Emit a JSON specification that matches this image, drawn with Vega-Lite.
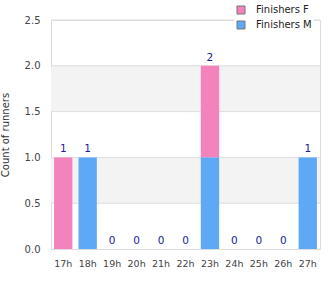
{
  "$schema": "https://vega.github.io/schema/vega-lite/v6.json",
  "width": 269,
  "height": 229,
  "autosize": {"type": "none"},
  "padding": {"left": 51, "top": 20, "right": 10, "bottom": 51},
  "config": {
    "font": "DejaVu Sans",
    "view": {"stroke": "#dddddd"},
    "axis": {"labelFont": "DejaVu Sans", "titleFont": "DejaVu Sans"}
  },
  "datasets": {
    "runners": [
      {"hour": "17h", "series": "Finishers F", "count": 1},
      {"hour": "17h", "series": "Finishers M", "count": 0},
      {"hour": "18h", "series": "Finishers F", "count": 0},
      {"hour": "18h", "series": "Finishers M", "count": 1},
      {"hour": "19h", "series": "Finishers F", "count": 0},
      {"hour": "19h", "series": "Finishers M", "count": 0},
      {"hour": "20h", "series": "Finishers F", "count": 0},
      {"hour": "20h", "series": "Finishers M", "count": 0},
      {"hour": "21h", "series": "Finishers F", "count": 0},
      {"hour": "21h", "series": "Finishers M", "count": 0},
      {"hour": "22h", "series": "Finishers F", "count": 0},
      {"hour": "22h", "series": "Finishers M", "count": 0},
      {"hour": "23h", "series": "Finishers F", "count": 1},
      {"hour": "23h", "series": "Finishers M", "count": 1},
      {"hour": "24h", "series": "Finishers F", "count": 0},
      {"hour": "24h", "series": "Finishers M", "count": 0},
      {"hour": "25h", "series": "Finishers F", "count": 0},
      {"hour": "25h", "series": "Finishers M", "count": 0},
      {"hour": "26h", "series": "Finishers F", "count": 0},
      {"hour": "26h", "series": "Finishers M", "count": 0},
      {"hour": "27h", "series": "Finishers F", "count": 0},
      {"hour": "27h", "series": "Finishers M", "count": 1}
    ],
    "bands": [{"y0": 0.5, "y1": 1.0}, {"y0": 1.5, "y1": 2.0}],
    "grid": [{"v": 0.5}, {"v": 1.0}, {"v": 1.5}, {"v": 2.0}, {"v": 2.5}]
  },
  "layer": [
    {
      "data": {"name": "bands"},
      "mark": {"type": "rect", "color": "#f3f3f3"},
      "encoding": {
        "y": {"field": "y0", "type": "quantitative", "scale": {"domain": [0, 2.5], "nice": false}},
        "y2": {"field": "y1"}
      }
    },
    {
      "data": {"name": "grid"},
      "mark": {"type": "rule", "color": "#dddddd", "strokeWidth": 1},
      "encoding": {
        "y": {"field": "v", "type": "quantitative"}
      }
    },
    {
      "data": {"name": "runners"},
      "mark": {"type": "bar"},
      "encoding": {
        "x": {
          "field": "hour", "type": "nominal", "sort": null,
          "scale": {"paddingInner": 0.25, "paddingOuter": 0.125},
          "axis": {"title": null, "labelAngle": 0, "ticks": false, "domain": false, "labelColor": "#444444", "labelFontSize": 9.5, "labelPadding": 9}
        },
        "y": {
          "field": "count", "type": "quantitative", "stack": "zero",
          "scale": {"domain": [0, 2.5], "nice": false},
          "axis": {"title": "Count of runners", "values": [0, 0.5, 1, 1.5, 2, 2.5], "format": ".1f", "grid": false, "ticks": false, "domain": false, "labelColor": "#444444", "labelFontSize": 10, "labelPadding": 11, "titleFontWeight": "normal", "titleFontSize": 10, "titleColor": "#333333", "titlePadding": 14}
        },
        "color": {
          "field": "series", "type": "nominal",
          "scale": {"domain": ["Finishers F", "Finishers M"], "range": ["#f383bd", "#5fa8f5"]},
          "legend": {
            "title": null, "orient": "none", "legendX": 183, "legendY": -17,
            "symbolType": "square", "symbolSize": 64, "symbolStrokeColor": "#777777", "symbolStrokeWidth": 1,
            "labelFontSize": 10, "labelColor": "#222222", "fillColor": "white", "padding": 2, "rowPadding": 3, "labelOffset": 10
          }
        },
        "order": {"field": "series", "sort": "descending"}
      }
    },
    {
      "data": {"name": "runners"},
      "transform": [{"aggregate": [{"op": "sum", "field": "count", "as": "total"}], "groupby": ["hour"]}],
      "mark": {"type": "text", "baseline": "bottom", "dy": -3, "color": "#1a1a9a", "fontSize": 10.5},
      "encoding": {
        "x": {"field": "hour", "type": "nominal", "sort": null},
        "y": {"field": "total", "type": "quantitative"},
        "text": {"field": "total", "type": "quantitative"}
      }
    }
  ]
}
